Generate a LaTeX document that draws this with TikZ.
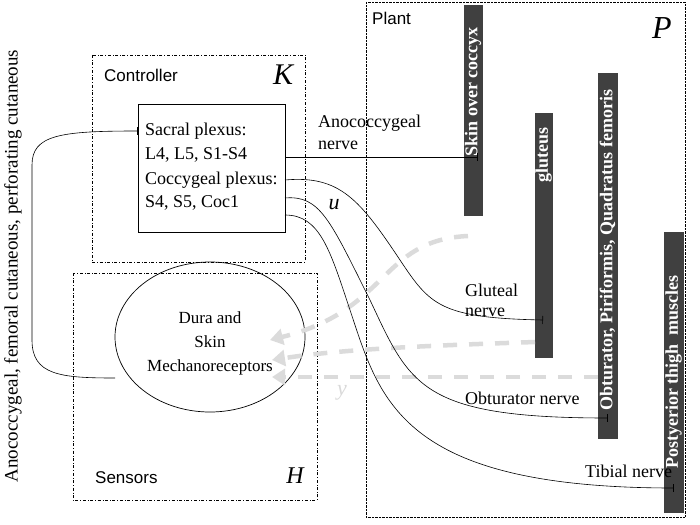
\documentclass[tikz,border=0pt]{standalone}
\usepackage{fontspec}
\setmainfont{Liberation Serif}
\newfontfamily\sansf{Liberation Sans}
\usetikzlibrary{arrows.meta}
\begin{document}
\begin{tikzpicture}[x=1pt,y=-1pt,
  bar/.style={fill=black!75,draw=black!75},
  bartext/.style={rotate=90,text=white,font=\bfseries\fontsize{18}{20}\selectfont},
  nerve/.style={draw=black,line width=0.6pt,-{Bar[width=8pt]}},
  fb/.style={draw=black!14,line width=4.5pt,dash pattern=on 14pt off 12pt,-{Triangle[length=13pt,width=16pt]}},
  lbl/.style={font=\fontsize{18}{20}\selectfont,anchor=west,inner sep=0pt},
  sl/.style={font=\sansf\fontsize{17}{19}\selectfont,anchor=west,inner sep=0pt}]
\useasboundingbox (0,0) rectangle (700,524);
% boxes
\draw[densely dotted] (366,2) rectangle (685,517);
\node[sl] (plant) at (372,18) {Plant};
\node (Plab) at (662,28) {\fontsize{32}{34}\selectfont\itshape P};
\draw[dash dot] (92,55) rectangle (305,262);
\node[sl] (ctl) at (104,75) {Controller};
\node (Klab) at (283,75) {\fontsize{30}{32}\selectfont\itshape K};
\draw[dash dot] (73,273) rectangle (317,500);
\node[sl] (sen) at (95,478) {Sensors};
\node (Hlab) at (295,476) {\fontsize{24}{26}\selectfont\itshape H};
% controller inner
\node[draw,minimum width=147pt,minimum height=128pt,line width=0.7pt] (ctrl) at (211.5,168) {};
\node[lbl] (t1) at (145,131) {Sacral plexus:};
\node[lbl] (t2) at (145,155) {L4, L5, S1-S4};
\node[lbl] (t3) at (145,180) {Coccygeal plexus:};
\node[lbl] (t4) at (145,203) {S4, S5, Coc1};
% sensors ellipse
\draw[line width=0.7pt] (210,337) ellipse (95pt and 75pt);
\node[align=center,font=\fontsize{17}{24}\selectfont] (sens) at (210,343) {Dura and\\Skin\\Mechanoreceptors};
% bars
\fill[bar] (464,5) rectangle (482,215);
\node[bartext] (b1) at (473,92) {Skin over coccyx};
\fill[bar] (535,113) rectangle (552,357);
\node[bartext] (b2) at (543.5,155) {gluteus};
\fill[bar] (598,73) rectangle (617,438);
\node[bartext] (b3) at (607.5,250) {Obturator, Piriformis, Quadratus femoris};
\fill[bar] (664,232) rectangle (683,512);
\node[bartext] (b4) at (673.5,372) {Postyerior thigh\ \ muscles};
% feedback dashed gray
\coordinate (s1) at (468,236);
\coordinate (s2) at (535,342);
\coordinate (s3) at (598,377);
\coordinate (e1) at (270,340);
\coordinate (e2) at (272,360);
\coordinate (e3) at (272,377);
\draw[fb] (s1) .. controls (380,240) and (390,310) .. (e1);
\draw[fb] (s2) .. controls (450,345) and (350,348) .. (e2);
\draw[fb] (s3) -- (e3);
\node[text=black!15,font=\fontsize{22}{24}\selectfont\itshape] (ylab) at (342,393) {y};
% nerves
\coordinate (o1) at (285,157);
\coordinate (o2) at (285,180);
\coordinate (o3) at (285,198);
\coordinate (o4) at (285,215);
\coordinate (n1) at (478,157);
\coordinate (n2) at (543,320);
\coordinate (n3) at (608,418);
\coordinate (n4) at (674,488);
\draw[nerve] (o1) -- (n1);
\draw[nerve] (o2) .. controls (340,175) and (360,200) .. (400,260) .. controls (430,305) and (440,318) .. (n2);
\draw[nerve] (o3) .. controls (320,195) and (330,220) .. (370,300) .. controls (410,385) and (420,418) .. (n3);
\draw[nerve] (o4) .. controls (320,215) and (330,250) .. (350,310) .. controls (380,400) and (400,488) .. (n4);
\node[lbl] (l1) at (318,123) {Anococcygeal};
\node[lbl] (l1b) at (318,145) {nerve};
\node[lbl] (l2) at (465,290) {Gluteal};
\node[lbl] (l2b) at (465,312) {nerve};
\node[lbl] (l3) at (465,398) {Obturator nerve};
\node[lbl] (l4) at (585,471) {Tibial nerve};
\node (ulab) at (334,205) {\fontsize{22}{24}\selectfont\itshape u};
% feedback to controller
\coordinate (c1) at (138,131);
\draw[line width=0.6pt,-{Bar[width=8pt]}] (115,378) .. controls (60,378) and (32,375) .. (32,340) -- (32,165) .. controls (32,135) and (60,131) .. (c1);
\node[rotate=90,font=\fontsize{19}{21}\selectfont] (side) at (13,266) {Anococcygeal, femoral cutaneous, perforating cutaneous};
\end{tikzpicture}
\end{document}
